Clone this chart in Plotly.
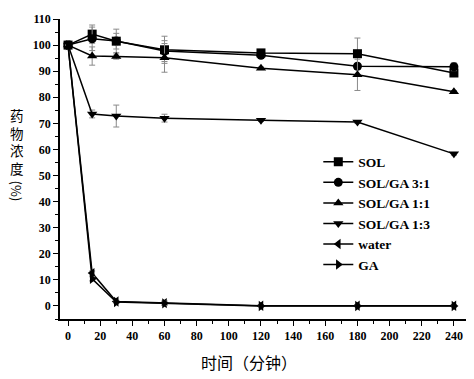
import plotly.graph_objects as go

time_min = [0, 15, 30, 60, 120, 180, 240]

sol = [100, 104.2, 101.5, 98.2, 97.0, 96.7, 89.3]
sol_err = [0, 3.5, 3.0, 5.2, 0.5, 6.0, 1.0]

sol_ga_31 = [100, 102.4, 101.6, 97.7, 96.1, 91.9, 91.7]
sol_ga_31_err = [0, 4.5, 4.5, 4.0, 0.5, 1.0, 1.5]

sol_ga_11 = [100, 95.8, 95.6, 95.1, 91.1, 88.6, 82.1]
sol_ga_11_err = [0, 3.5, 1.0, 5.5, 0.5, 6.0, 0.5]

sol_ga_13 = [100, 73.6, 72.8, 72.0, 71.2, 70.5, 58.3]
sol_ga_13_err = [0, 1.5, 4.2, 1.5, 0.5, 0.5, 0.5]

water = [100, 12.6, 1.7, 1.1, 0.1, 0.1, 0.1]
water_err = [0, 0.8, 0.5, 0.8, 0.3, 0.3, 0.3]

ga = [100, 10.4, 1.5, 1.0, 0.0, 0.0, 0.0]
ga_err = [0, 0.8, 0.5, 0.8, 0.3, 0.3, 0.3]

series = [
    ("SOL", sol, sol_err, "square"),
    ("SOL/GA 3:1", sol_ga_31, sol_ga_31_err, "circle"),
    ("SOL/GA 1:1", sol_ga_11, sol_ga_11_err, "triangle-up"),
    ("SOL/GA 1:3", sol_ga_13, sol_ga_13_err, "triangle-down"),
    ("water", water, water_err, "triangle-left"),
    ("GA", ga, ga_err, "triangle-right"),
]

x_ticks = list(range(0, 241, 20))
y_ticks = list(range(0, 111, 10))

y_title_chars = "药<br>物<br>浓<br>度"
y_title_unit = "(%)"
x_title = "时间（分钟）"

serif = "Liberation Serif"
cjk = "Noto Sans CJK SC"

fig = go.Figure()
for name, vals, err, sym in series:
    fig.add_trace(go.Scatter(
        x=time_min, y=vals, name=name, mode="lines+markers",
        line=dict(color="black", width=1.5),
        marker=dict(symbol=sym, size=9, color="black"),
        error_y=dict(type="data", array=err, visible=True,
                     color="#8a8a8a", thickness=1, width=3),
    ))

axis_common = dict(
    showline=True, linecolor="black", linewidth=1.5,
    ticks="outside", ticklen=5, tickwidth=1.2, tickcolor="black",
    showgrid=False, zeroline=False, mirror=False,
    ticklabeloverflow="allow",
    tickfont=dict(family=serif, size=12, color="black", weight="bold"),
)

# page body has an 8px margin, so the figure is shrunk by 8px to keep positions
fig.update_layout(
    width=466, height=371,
    margin=dict(l=52, r=4, t=5, b=60),
    plot_bgcolor="white", paper_bgcolor="white",
    font=dict(family=serif),
    xaxis=dict(range=[-5, 250], tickvals=x_ticks,
               minor=dict(ticks="outside", ticklen=3, dtick=10, tick0=0,
                          tickcolor="black", tickwidth=1),
               **axis_common),
    yaxis=dict(range=[-5, 110], tickvals=y_ticks,
               minor=dict(ticks="outside", ticklen=3, dtick=5, tick0=0,
                          tickcolor="black", tickwidth=1),
               **axis_common),
    legend=dict(x=0.63, y=0.575, xanchor="left", yanchor="top",
                bgcolor="rgba(0,0,0,0)",
                font=dict(family=serif, size=13.5, color="black", weight="bold"),
                tracegroupgap=0, itemwidth=30),
    showlegend=True,
)

fig.add_annotation(
    text=x_title, xref="paper", yref="paper", x=0.462, y=-0.144,
    xanchor="center", yanchor="middle", showarrow=False,
    font=dict(family=cjk, size=16, color="black"),
)
fig.add_annotation(
    text=y_title_chars, xref="paper", yref="paper",
    x=-0.105, y=0.593, xanchor="center", yanchor="middle",
    showarrow=False, borderpad=0,
    font=dict(family=cjk, size=13.5, color="black"),
)
fig.add_annotation(
    text=y_title_unit, xref="paper", yref="paper",
    x=-0.105, y=0.425, xanchor="center", yanchor="middle", showarrow=False,
    textangle=90, borderpad=0,
    font=dict(family=cjk, size=13, color="black"),
)

fig.write_html("out.html")
